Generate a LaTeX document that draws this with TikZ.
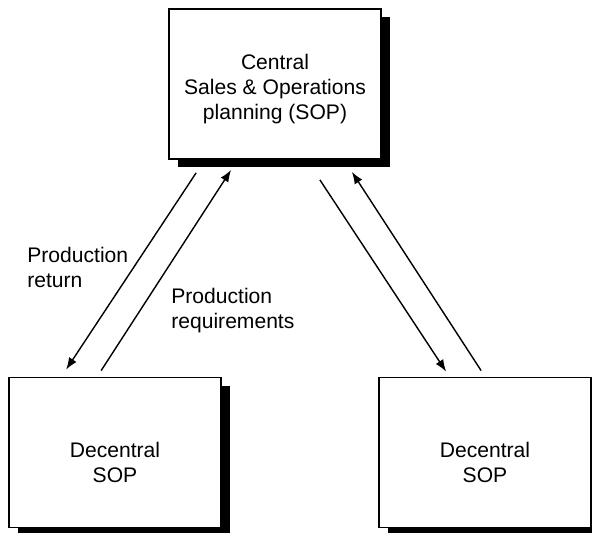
\documentclass[tikz,border=0pt]{standalone}
\usepackage{fontspec}
\setmainfont{Liberation Sans}
\usetikzlibrary{arrows.meta, shadows}

\begin{document}
\begin{tikzpicture}[
    sopbox/.style={draw, line width=1pt, fill=white, minimum width=4.24cm, minimum height=3cm,
        align=center, font=\fontsize{12}{14}\selectfont,
        drop shadow={fill=black, opacity=1, shadow xshift=0.17cm, shadow yshift=-0.17cm}},
    flow/.style={-{Latex[length=2.4mm,width=1.8mm]}, line width=0.8pt},
    flowlabel/.style={anchor=north west, inner sep=0pt, align=left, font=\fontsize{12}{14}\selectfont}
]
    \useasboundingbox (0,0) rectangle (11.84,10.66);

    % Planning levels (rule pushes the text a little down)
    \node[sopbox] (central) at (5.50,8.98) {\rule{0pt}{0.51cm}Central\\Sales \& Operations\\planning (SOP)};
    \node[sopbox] (left) at (2.30,1.61) {\rule{0pt}{0.71cm}Decentral\\SOP};
    \node[sopbox] (right) at (9.70,1.61) {\rule{0pt}{0.71cm}Decentral\\SOP};

    % Flows to the left site
    \draw[flow] ([xshift=0.56cm,yshift=-0.26cm]central.south west) -- ([xshift=1.16cm,yshift=0.14cm]left.north west);
    \draw[flow] ([xshift=1.86cm,yshift=0.12cm]left.north west) -- ([xshift=1.26cm,yshift=-0.20cm]central.south west);

    % Flows to the right site
    \draw[flow] ([xshift=-1.24cm,yshift=-0.40cm]central.south east) -- ([xshift=1.36cm,yshift=0.10cm]right.north west);
    \draw[flow] ([xshift=2.06cm,yshift=0.12cm]right.north west) -- ([xshift=-0.60cm,yshift=-0.24cm]central.south east);

    \node[flowlabel] (return) at (0.54,5.72) {Production\\return};
    \node[flowlabel] (requirements) at (3.42,4.90) {Production\\requirements};
\end{tikzpicture}
\end{document}
